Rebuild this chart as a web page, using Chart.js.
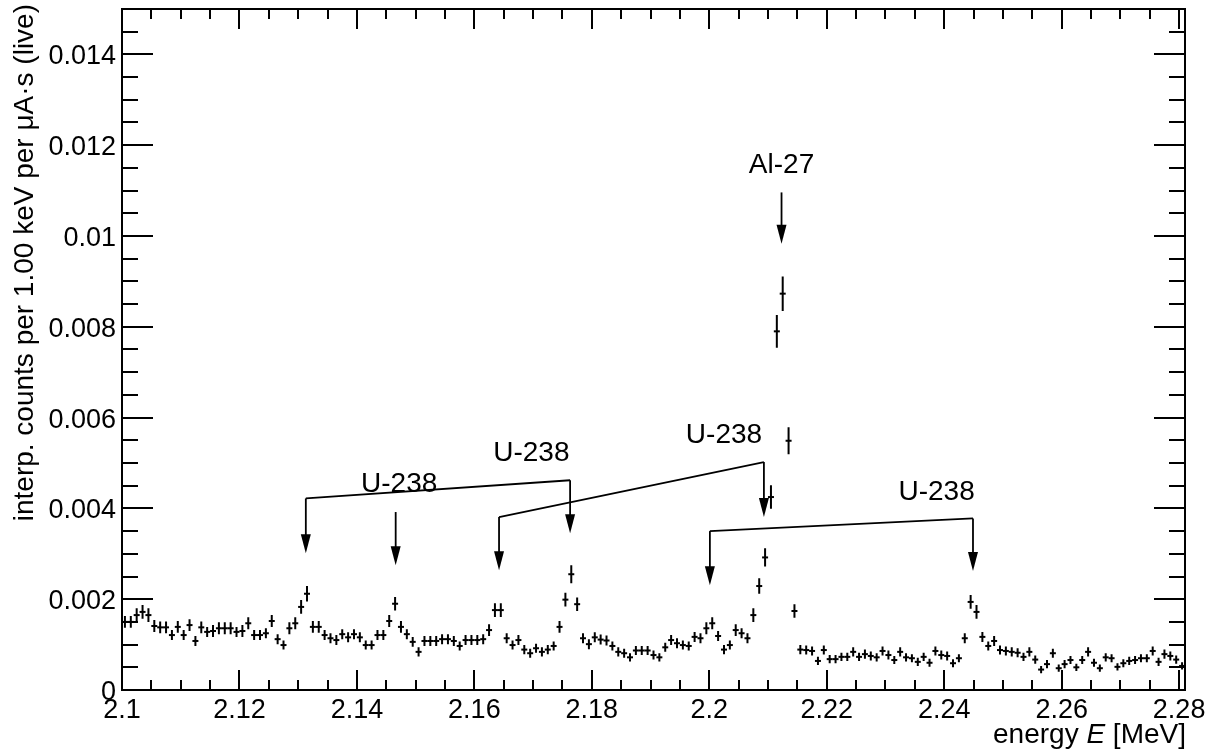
<!DOCTYPE html>
<html>
<head>
<meta charset="utf-8">
<title>Spectrum 2.10 - 2.28 MeV</title>
<script src="https://cdn.jsdelivr.net/npm/chart.js@4.4.1/dist/chart.umd.min.js"></script>
<style>
  html, body { margin: 0; padding: 0; background: #fff; }
  #wrap { width: 1212px; height: 753px; position: relative; }
</style>
</head>
<body>
<div id="wrap"><canvas id="spectrum"></canvas></div>
<script>
// histogram range (MeV), 1 keV bins
const E_MIN = 2.1;
const E_MAX = 2.281;
const BIN_WIDTH = 0.001;
const Y_MAX = 0.015;

// interp. counts per keV per uA*s, one value per bin starting at 2.100 MeV
const counts = [
  1.50e-3, 1.50e-3, 1.65e-3, 1.72e-3, 1.65e-3, 1.41e-3, 1.38e-3, 1.38e-3, 1.21e-3, 1.39e-3,
  1.21e-3, 1.43e-3, 1.08e-3, 1.38e-3, 1.28e-3, 1.30e-3, 1.36e-3, 1.36e-3, 1.36e-3, 1.28e-3,
  1.30e-3, 1.47e-3, 1.21e-3, 1.21e-3, 1.25e-3, 1.52e-3, 1.12e-3, 0.99e-3, 1.36e-3, 1.47e-3,
  1.83e-3, 2.12e-3, 1.39e-3, 1.39e-3, 1.21e-3, 1.14e-3, 1.10e-3, 1.23e-3, 1.16e-3, 1.23e-3,
  1.16e-3, 0.99e-3, 0.99e-3, 1.21e-3, 1.21e-3, 1.52e-3, 1.90e-3, 1.39e-3, 1.23e-3, 1.06e-3,
  0.84e-3, 1.08e-3, 1.08e-3, 1.08e-3, 1.12e-3, 1.12e-3, 1.08e-3, 0.97e-3, 1.10e-3, 1.10e-3,
  1.10e-3, 1.12e-3, 1.32e-3, 1.76e-3, 1.76e-3, 1.14e-3, 0.99e-3, 1.10e-3, 0.89e-3, 0.81e-3,
  0.92e-3, 0.84e-3, 0.89e-3, 0.97e-3, 1.39e-3, 1.99e-3, 2.55e-3, 1.89e-3, 1.14e-3, 1.01e-3,
  1.16e-3, 1.11e-3, 1.09e-3, 0.97e-3, 0.84e-3, 0.81e-3, 0.72e-3, 0.87e-3, 0.87e-3, 0.87e-3,
  0.77e-3, 0.72e-3, 0.94e-3, 1.10e-3, 1.03e-3, 0.99e-3, 0.97e-3, 1.17e-3, 1.14e-3, 1.36e-3,
  1.47e-3, 1.19e-3, 0.89e-3, 0.99e-3, 1.32e-3, 1.25e-3, 1.14e-3, 1.65e-3, 2.29e-3, 2.92e-3,
  4.25e-3, 7.90e-3, 8.73e-3, 5.49e-3, 1.74e-3, 0.89e-3, 0.88e-3, 0.86e-3, 0.64e-3, 0.88e-3,
  0.68e-3, 0.68e-3, 0.73e-3, 0.73e-3, 0.84e-3, 0.73e-3, 0.79e-3, 0.75e-3, 0.72e-3, 0.86e-3,
  0.77e-3, 0.66e-3, 0.84e-3, 0.72e-3, 0.70e-3, 0.62e-3, 0.73e-3, 0.60e-3, 0.86e-3, 0.77e-3,
  0.75e-3, 0.59e-3, 0.70e-3, 1.14e-3, 1.94e-3, 1.72e-3, 1.17e-3, 0.97e-3, 1.08e-3, 0.88e-3,
  0.86e-3, 0.84e-3, 0.82e-3, 0.73e-3, 0.84e-3, 0.67e-3, 0.45e-3, 0.57e-3, 0.81e-3, 0.48e-3,
  0.57e-3, 0.66e-3, 0.50e-3, 0.66e-3, 0.84e-3, 0.60e-3, 0.48e-3, 0.72e-3, 0.70e-3, 0.51e-3,
  0.59e-3, 0.64e-3, 0.66e-3, 0.70e-3, 0.70e-3, 0.86e-3, 0.62e-3, 0.79e-3, 0.75e-3, 0.67e-3,
  0.53e-3
];

// statistical error of each bin (half length of the vertical bar)
const errors = [
  0.13e-3, 0.13e-3, 0.15e-3, 0.15e-3, 0.15e-3, 0.13e-3, 0.13e-3, 0.13e-3, 0.11e-3, 0.13e-3,
  0.11e-3, 0.13e-3, 0.11e-3, 0.13e-3, 0.11e-3, 0.13e-3, 0.13e-3, 0.13e-3, 0.13e-3, 0.11e-3,
  0.13e-3, 0.13e-3, 0.11e-3, 0.11e-3, 0.11e-3, 0.13e-3, 0.11e-3, 0.10e-3, 0.13e-3, 0.13e-3,
  0.15e-3, 0.17e-3, 0.13e-3, 0.13e-3, 0.11e-3, 0.11e-3, 0.11e-3, 0.11e-3, 0.11e-3, 0.11e-3,
  0.11e-3, 0.10e-3, 0.10e-3, 0.11e-3, 0.11e-3, 0.13e-3, 0.15e-3, 0.13e-3, 0.11e-3, 0.11e-3,
  0.10e-3, 0.11e-3, 0.11e-3, 0.11e-3, 0.11e-3, 0.11e-3, 0.11e-3, 0.10e-3, 0.11e-3, 0.11e-3,
  0.11e-3, 0.11e-3, 0.13e-3, 0.15e-3, 0.15e-3, 0.11e-3, 0.10e-3, 0.11e-3, 0.10e-3, 0.10e-3,
  0.10e-3, 0.10e-3, 0.10e-3, 0.10e-3, 0.13e-3, 0.15e-3, 0.20e-3, 0.15e-3, 0.11e-3, 0.11e-3,
  0.11e-3, 0.11e-3, 0.11e-3, 0.10e-3, 0.10e-3, 0.10e-3, 0.09e-3, 0.10e-3, 0.10e-3, 0.10e-3,
  0.10e-3, 0.09e-3, 0.10e-3, 0.11e-3, 0.11e-3, 0.10e-3, 0.10e-3, 0.11e-3, 0.11e-3, 0.13e-3,
  0.13e-3, 0.11e-3, 0.10e-3, 0.10e-3, 0.13e-3, 0.11e-3, 0.11e-3, 0.15e-3, 0.17e-3, 0.20e-3,
  0.26e-3, 0.36e-3, 0.38e-3, 0.30e-3, 0.15e-3, 0.10e-3, 0.10e-3, 0.10e-3, 0.09e-3, 0.10e-3,
  0.09e-3, 0.09e-3, 0.09e-3, 0.09e-3, 0.10e-3, 0.09e-3, 0.10e-3, 0.10e-3, 0.09e-3, 0.10e-3,
  0.10e-3, 0.09e-3, 0.10e-3, 0.09e-3, 0.09e-3, 0.09e-3, 0.09e-3, 0.09e-3, 0.10e-3, 0.10e-3,
  0.10e-3, 0.09e-3, 0.09e-3, 0.11e-3, 0.15e-3, 0.15e-3, 0.11e-3, 0.10e-3, 0.11e-3, 0.10e-3,
  0.10e-3, 0.10e-3, 0.10e-3, 0.09e-3, 0.10e-3, 0.09e-3, 0.08e-3, 0.09e-3, 0.10e-3, 0.08e-3,
  0.09e-3, 0.09e-3, 0.08e-3, 0.09e-3, 0.10e-3, 0.09e-3, 0.08e-3, 0.09e-3, 0.09e-3, 0.08e-3,
  0.09e-3, 0.09e-3, 0.09e-3, 0.09e-3, 0.09e-3, 0.10e-3, 0.09e-3, 0.10e-3, 0.10e-3, 0.09e-3,
  0.08e-3
];

const xTicks = [2.1, 2.12, 2.14, 2.16, 2.18, 2.2, 2.22, 2.24, 2.26, 2.28];
const yTicks = [0, 0.002, 0.004, 0.006, 0.008, 0.01, 0.012, 0.014];
const X_MINOR = 0.005;
const Y_MINOR = 0.0005;

// line identification marks: label position + arrows [energy, arrow top, arrow tip]
const lineMarks = [
  { label: 'Al-27', at: [2.2123, 0.01155], arrows: [[2.2123, 0.01096, 0.00983]] },
  { label: 'U-238', at: [2.1472, 0.00453], arrows: [[2.1466, 0.00392, 0.00275]] },
  { label: 'U-238', at: [2.1697, 0.00522], arrows: [[2.1313, 0.00422, 0.00301], [2.1763, 0.00462, 0.00345]] },
  { label: 'U-238', at: [2.2025, 0.00561], arrows: [[2.1642, 0.00381, 0.00264], [2.2093, 0.00502, 0.00381]] },
  { label: 'U-238', at: [2.2387, 0.00436], arrows: [[2.2001, 0.00350, 0.00231], [2.2449, 0.00378, 0.00262]] }
];

const energies = counts.map((_, i) => E_MIN + (i + 0.5) * BIN_WIDTH);
const FONT = '"Liberation Sans", Arial, Helvetica, sans-serif';

const rootStyle = {
  id: 'rootStyle',
  beforeDatasetsDraw(chart) {
    // vertical error bars
    const { ctx, scales: { x, y } } = chart;
    ctx.save();
    ctx.strokeStyle = '#000';
    ctx.lineWidth = 2;
    ctx.beginPath();
    counts.forEach((v, i) => {
      const px = x.getPixelForValue(energies[i]);
      ctx.moveTo(px, y.getPixelForValue(v - errors[i]));
      ctx.lineTo(px, y.getPixelForValue(v + errors[i]));
    });
    ctx.stroke();
    ctx.restore();
  },
  afterDraw(chart) {
    const { ctx, chartArea: a, scales: { x, y } } = chart;
    ctx.save();
    ctx.strokeStyle = '#000';
    ctx.fillStyle = '#000';

    // frame
    ctx.lineWidth = 2;
    ctx.strokeRect(a.left, a.top, a.right - a.left, a.bottom - a.top);

    // ticks on all four sides, pointing inwards
    ctx.lineWidth = 2;
    ctx.beginPath();
    for (let v = E_MIN; v <= E_MAX + 1e-9; v += X_MINOR) {
      const major = xTicks.some(t => Math.abs(t - v) < 1e-6);
      const len = major ? 20 : 10;
      const px = Math.round(x.getPixelForValue(v));
      ctx.moveTo(px, a.bottom); ctx.lineTo(px, a.bottom - len);
      ctx.moveTo(px, a.top); ctx.lineTo(px, a.top + len);
    }
    for (let v = 0; v <= Y_MAX + 1e-9; v += Y_MINOR) {
      const major = yTicks.some(t => Math.abs(t - v) < 1e-7);
      const len = major ? 31 : 16;
      const py = Math.round(y.getPixelForValue(v));
      ctx.moveTo(a.left, py); ctx.lineTo(a.left + len, py);
      ctx.moveTo(a.right, py); ctx.lineTo(a.right - len, py);
    }
    ctx.stroke();

    // tick labels
    ctx.font = '27px ' + FONT;
    ctx.textBaseline = 'alphabetic';
    ctx.textAlign = 'center';
    xTicks.forEach(t => ctx.fillText(String(t), x.getPixelForValue(t), a.bottom + 28));
    ctx.textAlign = 'right';
    yTicks.forEach(t => ctx.fillText(String(t), a.left - 6, y.getPixelForValue(t) + 10));

    // x title with italic E
    const parts = [['energy ', ''], ['E', 'italic '], [' [MeV]', '']];
    let total = 0;
    parts.forEach(([s, st]) => { ctx.font = st + '28px ' + FONT; total += ctx.measureText(s).width; });
    let cx = a.right + 1 - total;
    ctx.textAlign = 'left';
    parts.forEach(([s, st]) => {
      ctx.font = st + '28px ' + FONT;
      ctx.fillText(s, cx, 743);
      cx += ctx.measureText(s).width;
    });

    // y title, rotated, aligned to the top end
    ctx.save();
    ctx.translate(33, 4);
    ctx.rotate(-Math.PI / 2);
    ctx.font = '28px ' + FONT;
    ctx.textAlign = 'right';
    ctx.fillText('interp. counts per 1.00 keV per \u03bcA\u00b7s (live)', 0, 0);
    ctx.restore();

    // line identification arrows
    ctx.font = '28px ' + FONT;
    ctx.textAlign = 'center';
    ctx.textBaseline = 'middle';
    lineMarks.forEach(m => {
      ctx.fillText(m.label, x.getPixelForValue(m.at[0]), y.getPixelForValue(m.at[1]));
      const tops = m.arrows.map(([e, top]) => [x.getPixelForValue(e), y.getPixelForValue(top)]);
      ctx.lineWidth = 1.8;
      if (tops.length === 2) {
        ctx.beginPath();
        ctx.moveTo(tops[0][0], tops[0][1]);
        ctx.lineTo(tops[1][0], tops[1][1]);
        ctx.stroke();
      }
      m.arrows.forEach(([e, top, tip]) => {
        const px = x.getPixelForValue(e);
        const y0 = y.getPixelForValue(top);
        const y1 = y.getPixelForValue(tip);
        ctx.beginPath();
        ctx.moveTo(px, y0);
        ctx.lineTo(px, y1 - 10);
        ctx.stroke();
        ctx.beginPath();
        ctx.moveTo(px, y1);
        ctx.lineTo(px - 5, y1 - 19);
        ctx.lineTo(px + 5, y1 - 19);
        ctx.closePath();
        ctx.fill();
      });
    });
    ctx.restore();
  }
};

new Chart(document.getElementById('spectrum'), {
  type: 'scatter',
  data: {
    datasets: [{
      label: 'spectrum',
      data: energies.map((e, i) => ({ x: e, y: counts[i] })),
      pointStyle: 'line',
      pointRadius: 3,
      borderColor: '#000',
      backgroundColor: '#000',
      borderWidth: 2
    }]
  },
  options: {
    responsive: true,
    maintainAspectRatio: false,
    animation: false,
    events: [],
    layout: { padding: { left: 122, right: 27, top: 9, bottom: 63 } },
    scales: {
      x: { type: 'linear', min: E_MIN, max: E_MAX, display: false },
      y: { type: 'linear', min: 0, max: Y_MAX, display: false }
    },
    plugins: {
      legend: { display: false },
      tooltip: { enabled: false }
    }
  },
  plugins: [rootStyle]
});
</script>
</body>
</html>
